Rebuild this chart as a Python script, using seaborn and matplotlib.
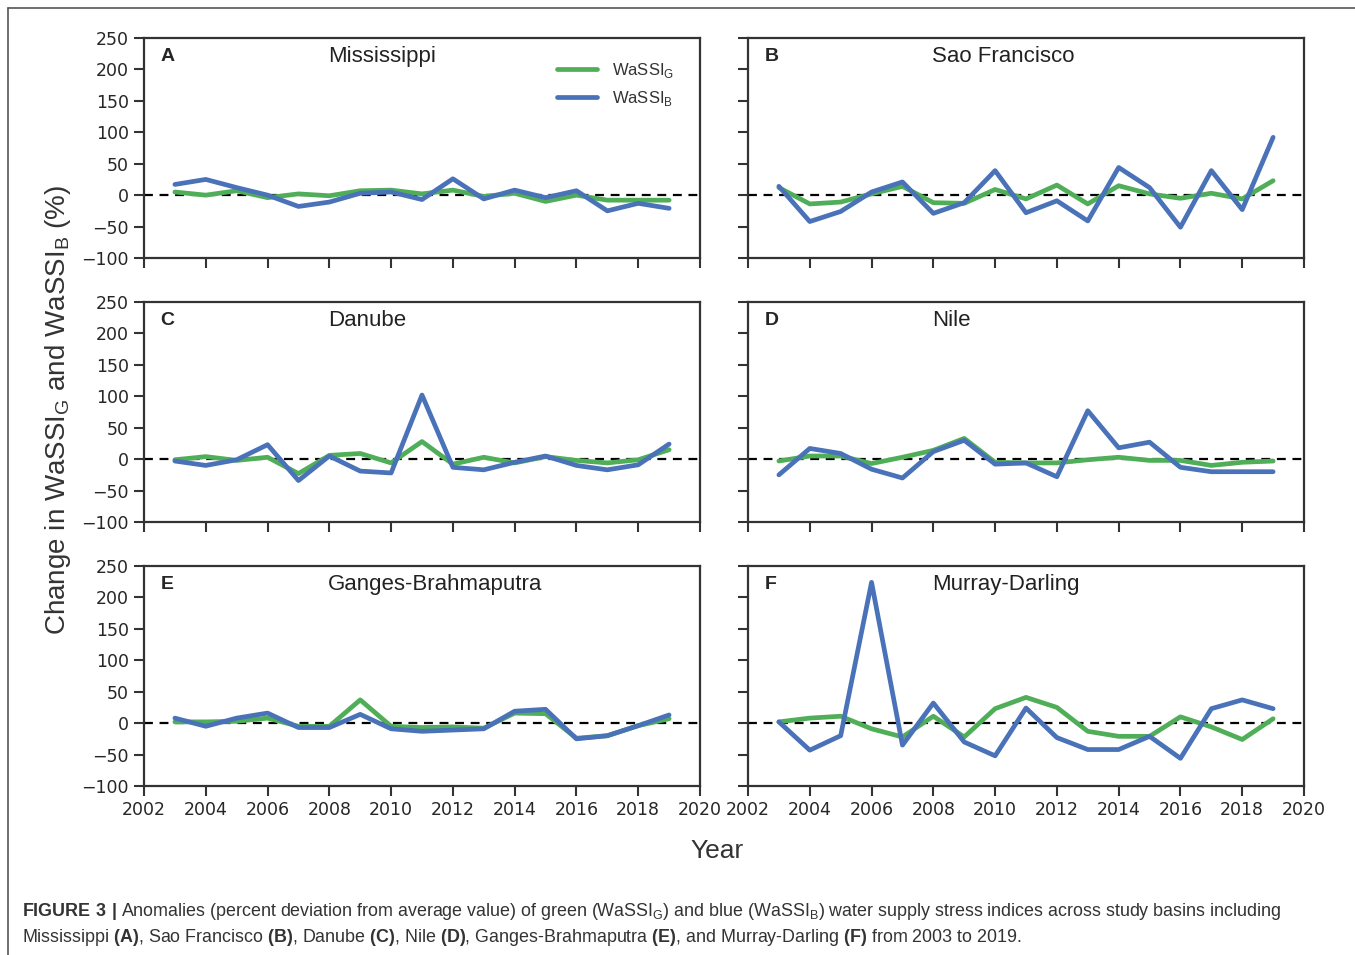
# plot.py

import seaborn as sns
import matplotlib.pyplot as plt
import matplotlib.lines as mlines
import pandas as pd
import numpy as np

# --------------------------
# 1. Data
# --------------------------
years = list(range(2003, 2020))

basins = ["Mississippi", "Sao Francisco", "Danube", "Nile",
          "Ganges-Brahmaputra", "Murray-Darling"]
letters = ["A", "B", "C", "D", "E", "F"]

# green water supply stress index anomalies (%)
green_mississippi = [5, 0, 7, -4, 2, -1, 7, 8, 2, 8, -2, 3, -10, 0, -8, -8, -8]
green_saofrancisco = [12, -14, -11, 2, 14, -12, -13, 9, -6, 16, -14, 15, 2, -5, 3, -6, 23]
green_danube = [-1, 4, -2, 3, -23, 6, 9, -6, 28, -8, 3, -6, 4, -2, -6, -1, 15]
green_nile = [-3, 5, 5, -7, 3, 14, 33, -5, -6, -6, -1, 3, -2, -2, -10, -5, -3]
green_ganges = [2, 2, 3, 8, -5, -5, 37, -5, -7, -6, -8, 16, 15, -24, -20, -4, 7]
green_murray = [2, 8, 11, -9, -22, 11, -22, 23, 41, 25, -13, -21, -21, 10, -6, -26, 7]

# blue water supply stress index anomalies (%)
blue_mississippi = [17, 25, 12, 0, -18, -11, 3, 5, -7, 26, -6, 8, -4, 7, -25, -13, -21]
blue_saofrancisco = [14, -42, -26, 5, 21, -29, -12, 39, -28, -9, -41, 44, 12, -51, 39, -23, 92]
blue_danube = [-3, -10, -1, 23, -34, 5, -19, -22, 102, -13, -17, -5, 5, -10, -17, -9, 24]
blue_nile = [-25, 17, 9, -16, -30, 12, 30, -8, -6, -28, 77, 18, 27, -13, -20, -20, -20]
blue_ganges = [8, -5, 8, 16, -7, -7, 14, -9, -13, -11, -9, 19, 22, -25, -20, -4, 13]
blue_murray = [2, -43, -20, 224, -35, 32, -30, -52, 24, -23, -42, -42, -21, -56, 23, 37, 23]

green_series = [green_mississippi, green_saofrancisco, green_danube,
                green_nile, green_ganges, green_murray]
blue_series = [blue_mississippi, blue_saofrancisco, blue_danube,
               blue_nile, blue_ganges, blue_murray]

series_labels = ["WaSSI$_\\mathrm{G}$", "WaSSI$_\\mathrm{B}$"]

# --------------------------
# 2. Styling
# --------------------------
sns.set_style("ticks")
plt.rcParams["font.family"] = ["DejaVu Sans"]
plt.rcParams["mathtext.fontset"] = "custom"
plt.rcParams["mathtext.rm"] = "Liberation Sans"
plt.rcParams["mathtext.bf"] = "Liberation Sans:bold"

palette = {series_labels[0]: "#4fae57", series_labels[1]: "#4a72b8"}
spine_color = "#333333"

W, H = 1355, 955
fig = plt.figure(figsize=(W / 100, H / 100), dpi=100)

# panel positions in pixels (left, top) of the axes box
col_x = [144, 748]
row_top = [38, 302, 566]
ax_w, ax_h = 556, 220

axes = []
for i in range(6):
    r, c = divmod(i, 2)
    left = col_x[c] / W
    bottom = 1 - (row_top[r] + ax_h) / H
    ax = fig.add_axes([left, bottom, ax_w / W, ax_h / H])
    axes.append(ax)

# --------------------------
# 3. Draw panels
# --------------------------
for i, ax in enumerate(axes):
    df = pd.DataFrame({
        "Year": years * 2,
        "Change": green_series[i] + blue_series[i],
        "Index": [series_labels[0]] * len(years) + [series_labels[1]] * len(years),
    })
    ax.axhline(0, color="black", lw=1.6, ls=(0, (4, 3)), zorder=1)
    sns.lineplot(data=df, x="Year", y="Change", hue="Index", palette=palette,
                 linewidth=3.4, ax=ax, legend=(i == 0), zorder=2)

    ax.set_xlim(2002, 2020)
    ax.set_ylim(-100, 250)
    ax.set_xticks(np.arange(2002, 2021, 2))
    ax.set_yticks(np.arange(-100, 251, 50))
    ax.set_xlabel("")
    ax.set_ylabel("")
    ax.tick_params(direction="out", length=7, width=1.5, color=spine_color,
                   labelsize=12.5, pad=4)
    for s in ax.spines.values():
        s.set_color(spine_color)
        s.set_linewidth(1.6)
    if i < 4:
        ax.tick_params(labelbottom=False)
    if i % 2 == 1:
        ax.tick_params(labelleft=False)

    ax.text(0.03, 0.915, letters[i], transform=ax.transAxes, fontsize=14,
            fontweight="bold", va="center", ha="left", family="Liberation Sans")
    ax.text(0.331, 0.915, basins[i], transform=ax.transAxes, fontsize=16,
            va="center", ha="left", color="#222222", family="Liberation Sans")

    if i == 0:
        leg = ax.legend(loc="upper left", bbox_to_anchor=(0.715, 0.965),
                        frameon=False, fontsize=12, handlelength=2.4,
                        handletextpad=0.9, labelspacing=0.55, title=None)
        for t in leg.get_texts():
            t.set_family("Liberation Sans")
            t.set_color("#333333")

# --------------------------
# 4. Shared labels, caption, frame
# --------------------------
fig.text(58 / W, 1 - 410 / H, "Change in WaSSI$_\\mathrm{G}$ and WaSSI$_\\mathrm{B}$ (%)",
         rotation=90, va="center", ha="center", fontsize=20, color="#333333",
         family="Liberation Sans")
fig.text(717 / W, 1 - 851 / H, "Year", va="center", ha="center", fontsize=19,
         color="#333333", family="Liberation Sans")

cap1 = ("$\\mathbf{FIGURE\\ 3\\ |}$ Anomalies (percent deviation from average value) of green "
        "(WaSSI$_\\mathrm{G}$) and blue (WaSSI$_\\mathrm{B}$) water supply stress indices "
        "across study basins including")
cap2 = ("Mississippi $\\mathbf{(A)}$, Sao Francisco $\\mathbf{(B)}$, Danube $\\mathbf{(C)}$, "
        "Nile $\\mathbf{(D)}$, Ganges-Brahmaputra $\\mathbf{(E)}$, and Murray-Darling "
        "$\\mathbf{(F)}$ from 2003 to 2019.")
fig.text(22 / W, 1 - 911 / H, cap1, va="center", ha="left", fontsize=12.9,
         color="#333333", family="Liberation Sans")
fig.text(22 / W, 1 - 937 / H, cap2, va="center", ha="left", fontsize=12.9,
         color="#333333", family="Liberation Sans")

# thin outer frame (top and left edges visible)
fig.add_artist(mlines.Line2D([8 / W, 1], [1 - 8 / H, 1 - 8 / H],
                             transform=fig.transFigure, color="#555555", lw=1.2))
fig.add_artist(mlines.Line2D([8 / W, 8 / W], [0, 1 - 8 / H],
                             transform=fig.transFigure, color="#555555", lw=1.2))

fig.savefig("out.png", dpi=100)
plt.close(fig)
